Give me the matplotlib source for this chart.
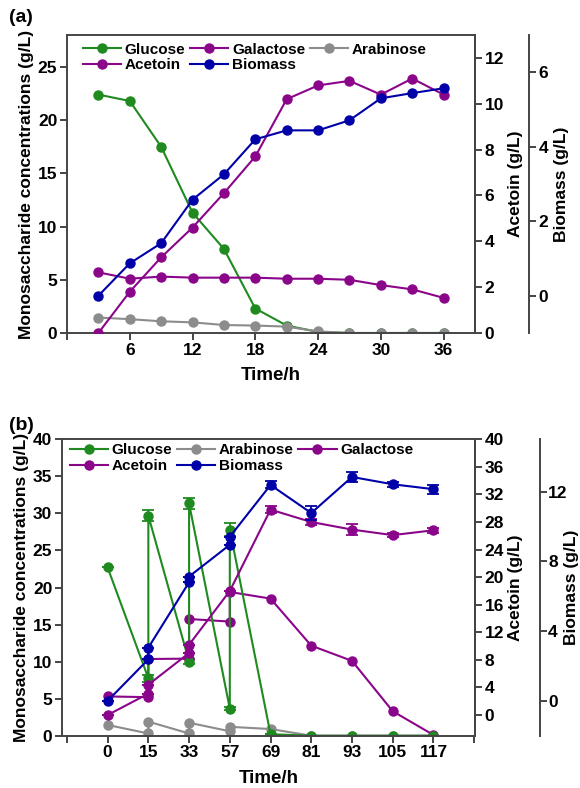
import matplotlib
matplotlib.use("Agg")
import matplotlib.pyplot as plt

plt.rcParams['font.family'] = ['Liberation Sans', 'DejaVu Sans']
plt.rcParams['font.weight'] = 'bold'

# ---- panel (a) data ----
time_a = [3, 6, 9, 12, 15, 18, 21, 24, 27, 30, 33, 36]
glucose_a = [22.4, 21.8, 17.5, 11.3, 7.9, 2.3, 0.7, 0.1, 0, 0, 0, 0]
galactose_a = [5.7, 5.1, 5.3, 5.2, 5.2, 5.2, 5.1, 5.1, 5.0, 4.5, 4.1, 3.3]
arabinose_a = [1.45, 1.3, 1.1, 1.0, 0.75, 0.7, 0.6, 0.15, 0, 0, 0, 0]
acetoin_a = [0.0, 1.8, 3.3, 4.6, 6.1, 7.7, 10.2, 10.8, 11.0, 10.4, 11.1, 10.4]
biomass_a = [0.0, 0.87, 1.41, 2.58, 3.26, 4.2, 4.44, 4.44, 4.71, 5.3, 5.44, 5.57]

# ---- panel (b) data (fed-batch, two values at feeding times) ----
time_labels_b = [0, 15, 33, 57, 69, 81, 93, 105, 117]
sugar_t_b = [0, 15, 15, 33, 33, 57, 57, 69, 81, 93, 105, 117]
glucose_b = [22.7, 7.75, 29.7, 10.0, 31.35, 3.65, 27.8, 0.2, 0, 0, 0, 0]
glucose_err_b = [0, 0.5, 0.75, 0.3, 0.7, 0.2, 0.85, 0, 0, 0, 0, 0]
arabinose_b = [1.45, 0.3, 1.9, 0.3, 1.75, 0.6, 1.2, 0.9, 0, 0, 0, 0]
galactose_b = [5.3, 5.2, 10.35, 10.4, 15.75, 15.4, 19.4, 18.5, 12.15, 10.1, 3.3, 0.1]
acetoin_t_b = [0, 15, 15, 33, 33, 57, 69, 81, 93, 105, 117]
acetoin_b = [0.0, 3.1, 4.4, 9.0, 10.2, 18.0, 29.8, 28.0, 26.9, 26.1, 26.8]
acetoin_err_b = [0, 0, 0, 0, 0, 0, 0.5, 0.4, 0.8, 0.3, 0.4]
biomass_t_b = [0, 15, 15, 33, 33, 57, 57, 69, 81, 93, 105, 117]
biomass_b = [0.0, 2.38, 3.05, 6.8, 7.13, 8.95, 9.41, 12.38, 10.77, 12.84, 12.42, 12.14]
biomass_err_b = [0, 0, 0, 0, 0, 0, 0, 0.2, 0.4, 0.3, 0.15, 0.25]

GREEN = '#1f8a1f'
PURPLE = '#8b058b'
BLUE = '#0000a8'
GRAY = '#8c8c8c'
SPINE = '#444444'

TICK_FS = 12.5
LABEL_FS = 12.5
XLABEL_FS = 13.5
LEG_FS = 11


def style_axis(ax, sides, pad=2):
    for s in ['left', 'right', 'top', 'bottom']:
        ax.spines[s].set_visible(s in sides)
        ax.spines[s].set_linewidth(1.4)
        ax.spines[s].set_color(SPINE)
    ax.tick_params(direction='out', width=1.4, length=5, color=SPINE,
                   labelsize=TICK_FS, pad=pad)
    for lab in ax.get_xticklabels() + ax.get_yticklabels():
        lab.set_fontweight('bold')


def line(ax, x, y, color, label, yerr=None):
    if yerr is None:
        h, = ax.plot(x, y, '-o', color=color, lw=1.5, ms=6.5, label=label)
        return h
    cont = ax.errorbar(x, y, yerr=yerr, fmt='-o', color=color, lw=1.5, ms=6.5,
                       capsize=4, elinewidth=1.3, capthick=1.3, label=label)
    return cont.lines[0]


fig = plt.figure(figsize=(5.8, 7.88), dpi=100)

# ================= panel (a) =================
ax = fig.add_axes([67 / 580, 1 - 333 / 788, 408 / 580, 298 / 788])
ax2 = ax.twinx()
ax3 = ax.twinx()
ax3.spines['right'].set_position(('axes', 1.132))

h_glc = line(ax, time_a, glucose_a, GREEN, 'Glucose')
h_gal = line(ax, time_a, galactose_a, PURPLE, 'Galactose')
h_ara = line(ax, time_a, arabinose_a, GRAY, 'Arabinose')
h_ace = line(ax2, time_a, acetoin_a, PURPLE, 'Acetoin')
h_bio = line(ax3, time_a, biomass_a, BLUE, 'Biomass')

ax.set_xlim(0, 39)
ax.set_ylim(0, 28)
ax.set_xticks([0, 6, 12, 18, 24, 30, 36])
ax.set_xticklabels(['', '6', '12', '18', '24', '30', '36'])
ax.set_yticks([0, 5, 10, 15, 20, 25])
ax2.set_ylim(0, 13)
ax2.set_yticks([0, 2, 4, 6, 8, 10, 12])
ax3.set_ylim(-1, 7)
ax3.set_yticks([0, 2, 4, 6])

style_axis(ax, ['left', 'bottom', 'top', 'right'])
style_axis(ax2, ['right'])
style_axis(ax3, ['right'])

ax.set_xlabel('Time/h', fontsize=XLABEL_FS, fontweight='bold', labelpad=7)
ax.set_ylabel('Monosaccharide concentrations (g/L)', fontsize=LABEL_FS,
              fontweight='bold', labelpad=3)
ax2.set_ylabel('Acetoin (g/L)', fontsize=LABEL_FS, fontweight='bold', labelpad=3)
ax3.set_ylabel('Biomass (g/L)', fontsize=LABEL_FS, fontweight='bold', labelpad=4)

ax.legend([h_glc, h_ace, h_gal, h_bio, h_ara],
          ['Glucose', 'Acetoin', 'Galactose', 'Biomass', 'Arabinose'],
          ncol=3, loc='upper left', bbox_to_anchor=(0.02, 1.0), frameon=False,
          handlelength=2.5, handletextpad=0.25, columnspacing=0.3,
          labelspacing=0.1, borderaxespad=0.1,
          prop={'weight': 'bold', 'size': LEG_FS})
fig.text(9 / 580, 1 - 18 / 788, '(a)', fontsize=14, fontweight='bold',
         va='center', ha='left')

# ================= panel (b) =================
bx = fig.add_axes([62 / 580, 1 - 735.7 / 788, 413 / 580, 296.4 / 788])
bx2 = bx.twinx()
bx3 = bx.twinx()
bx3.spines['right'].set_position(('axes', 1.157))


def pos(ts):
    return [time_labels_b.index(t) for t in ts]


g_glc = line(bx, pos(sugar_t_b), glucose_b, GREEN, 'Glucose', glucose_err_b)
g_ara = line(bx, pos(sugar_t_b), arabinose_b, GRAY, 'Arabinose')
g_gal = line(bx, pos(sugar_t_b), galactose_b, PURPLE, 'Galactose')
g_ace = line(bx2, pos(acetoin_t_b), acetoin_b, PURPLE, 'Acetoin', acetoin_err_b)
g_bio = line(bx3, pos(biomass_t_b), biomass_b, BLUE, 'Biomass', biomass_err_b)

bx.set_xlim(-1.12, 9.02)
bx.set_xticks(range(-1, 10))
bx.set_xticklabels([''] + [str(t) for t in time_labels_b] + [''])
bx.set_ylim(0, 40)
bx.set_yticks(range(0, 41, 5))
bx2.set_ylim(-3, 40)
bx2.set_yticks(range(0, 41, 4))
bx3.set_ylim(-2, 15)
bx3.set_yticks([0, 4, 8, 12])

style_axis(bx, ['left', 'bottom', 'top', 'right'])
style_axis(bx2, ['right'])
style_axis(bx3, ['right'], pad=1)

bx.set_xlabel('Time/h', fontsize=XLABEL_FS, fontweight='bold', labelpad=7)
bx.set_ylabel('Monosaccharide concentrations (g/L)', fontsize=LABEL_FS,
              fontweight='bold', labelpad=3)
bx2.set_ylabel('Acetoin (g/L)', fontsize=LABEL_FS, fontweight='bold', labelpad=3)
bx3.set_ylabel('Biomass (g/L)', fontsize=LABEL_FS, fontweight='bold', labelpad=-3)

bx.legend([g_glc, g_ace, g_ara, g_bio, g_gal],
          ['Glucose', 'Acetoin', 'Arabinose', 'Biomass', 'Galactose'],
          ncol=3, loc='upper left', bbox_to_anchor=(0.0, 1.012), frameon=False,
          handlelength=2.5, handletextpad=0.25, columnspacing=0.3,
          labelspacing=0.1, borderaxespad=0.1,
          prop={'weight': 'bold', 'size': LEG_FS})
fig.text(9 / 580, 1 - 425 / 788, '(b)', fontsize=14, fontweight='bold',
         va='center', ha='left')

fig.savefig('out.png', dpi=100)
